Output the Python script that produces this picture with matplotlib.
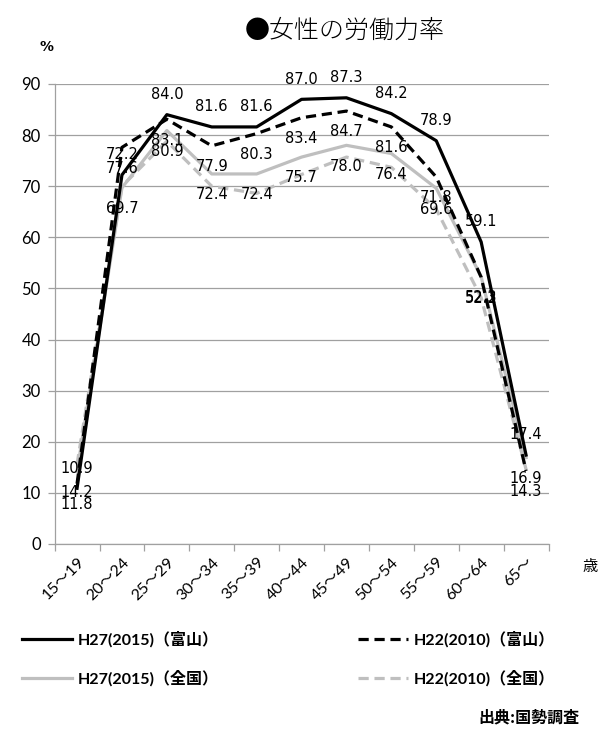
import matplotlib
matplotlib.use("Agg")
import matplotlib.pyplot as plt
import numpy as np

plt.rcParams['font.family'] = ['DejaVu Sans', 'Noto Sans CJK JP']

# Age groups (歳)
age_groups = ['15～19', '20～24', '25～29', '30～34', '35～39', '40～44',
              '45～49', '50～54', '55～59', '60～64', '65～']

# Female labour force participation rate (%)
toyama_2015 = [10.9, 72.2, 84.0, 81.6, 81.6, 87.0, 87.3, 84.2, 78.9, 59.1, 17.4]
toyama_2010 = [11.8, 77.6, 83.1, 77.9, 80.3, 83.4, 84.7, 81.6, 71.8, 52.2, 14.3]
national_2015 = [14.2, 69.7, 80.9, 72.4, 72.4, 75.7, 78.0, 76.4, 69.6, 52.3, 16.9]
national_2010 = [15.6, 70.0, 78.8, 70.0, 68.6, 72.3, 75.7, 73.7, 65.5, 48.2, 14.6]

series_names = ['H27(2015)（富山）', 'H22(2010)（富山）',
                'H27(2015)（全国）', 'H22(2010)（全国）']

W, H = 611, 731
fig = plt.figure(figsize=(W / 100, H / 100), dpi=100)
ax_l, ax_r, ax_t, ax_b = 54.6, 548.5, 84, 544
ax = fig.add_axes([ax_l / W, (H - ax_b) / H, (ax_r - ax_l) / W, (ax_b - ax_t) / H])

x = np.arange(len(age_groups))
grey = '#BFBFBF'
axis_grey = '#A0A0A0'
lw = 2.3

ln_n10, = ax.plot(x, national_2010, color=grey, lw=lw, dashes=(3.2, 1.8), zorder=3)
ln_n15, = ax.plot(x, national_2015, color=grey, lw=lw, zorder=4)
ln_t10, = ax.plot(x, toyama_2010, color='black', lw=lw, dashes=(3.2, 1.8), zorder=5)
ln_t15, = ax.plot(x, toyama_2015, color='black', lw=lw, zorder=6)

# value labels: 富山 H27 above the line, the others below
label_kw = dict(textcoords='offset points', ha='center', va='center',
                fontsize=10.5, color='black', zorder=8,
                family=['DejaVu Sans'])
for xi, v in zip(x, toyama_2015):
    ax.annotate(f'{v:.1f}', (xi, v), xytext=(0, 14.5), **label_kw)
for xi, v in zip(x, toyama_2010):
    ax.annotate(f'{v:.1f}', (xi, v), xytext=(0, -15), **label_kw)
for xi, v in zip(x, national_2015):
    ax.annotate(f'{v:.1f}', (xi, v), xytext=(0, -15), **label_kw)

ax.set_xlim(-0.5, len(age_groups) - 0.5)
ax.set_ylim(0, 90)
ax.set_yticks(np.arange(0, 91, 10))
ax.yaxis.grid(True, color=axis_grey, lw=0.9)
ax.set_axisbelow(True)

for side in ('top', 'right'):
    ax.spines[side].set_visible(False)
for side in ('left', 'bottom'):
    ax.spines[side].set_color(axis_grey)
    ax.spines[side].set_linewidth(0.9)

ax.set_xticks(np.arange(-0.5, len(age_groups), 1))
ax.set_xticklabels([])
ax.tick_params(axis='x', which='major', length=5, color=axis_grey, width=0.9)
ax.set_xticks(x, minor=True)
ax.set_xticklabels(age_groups, minor=True, rotation=45, ha='right',
                   rotation_mode='anchor', fontsize=11.5,
                   family=['Lato', 'Noto Sans CJK JP'])
ax.tick_params(axis='x', which='minor', length=0, pad=8)
ax.tick_params(axis='y', length=5, color=axis_grey, width=0.9, pad=5,
               labelsize=12)
for t in ax.get_yticklabels():
    t.set_family(['Lato'])

fig.text(345 / W, 1 - 30 / H, '●女性の労働力率', ha='center', va='center',
         fontsize=18, family=['Noto Sans CJK JP'], fontweight='light')
fig.text(47 / W, 1 - 47 / H, '%', ha='center', va='center', fontsize=10,
         fontweight='bold')
fig.text(590 / W, 1 - 566 / H, '歳', ha='center', va='center', fontsize=11,
         family=['Noto Sans CJK JP'])

# two legend columns placed independently
leg_kw = dict(loc='upper left', frameon=False, handlelength=3.1,
              handletextpad=0.4, labelspacing=1.45, borderpad=0,
              borderaxespad=0,
              prop={'family': ['Lato', 'Noto Sans CJK JP'], 'size': 11.5,
                    'weight': 'bold'})
leg1 = fig.legend([ln_t15, ln_n15], [series_names[0], series_names[2]],
                  bbox_to_anchor=(22 / W, 1 - 631 / H), **leg_kw)
leg2 = fig.legend([ln_t10, ln_n10], [series_names[1], series_names[3]],
                  bbox_to_anchor=(358 / W, 1 - 631 / H), **leg_kw)

fig.text(580 / W, 1 - 717 / H, '出典:国勢調査', ha='right', va='center',
         fontsize=11.5, family=['Noto Sans CJK JP'], fontweight='bold')

fig.savefig('out.png', dpi=100)
